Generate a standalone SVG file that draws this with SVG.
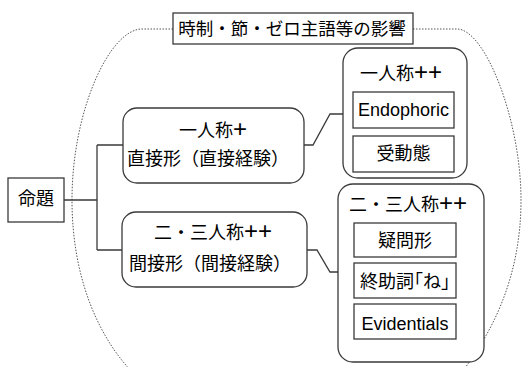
<svg xmlns="http://www.w3.org/2000/svg" width="523" height="367" viewBox="0 0 523 367">
<style>
.box{fill:#fff;stroke:#3a3a3a;stroke-width:1.3}
.ln{fill:none;stroke:#3a3a3a;stroke-width:1.3}
.dot{fill:none;stroke:#555;stroke-width:1;stroke-dasharray:1.5 1.5}
text{font-family:"Noto Sans CJK JP","Liberation Sans",sans-serif;font-size:18px;fill:#000;text-anchor:middle}
text.lat{font-family:"Liberation Sans",sans-serif}
.pl{font-family:"Liberation Sans",sans-serif;font-size:24px}
.h{font-feature-settings:"halt"}
</style>
<rect width="523" height="367" fill="#fff"/>
<g id="scope">
<path class="dot" d="M173,29 H142 C110,29 72,110 72,200 C72,280 100,340 135,375"/>
<path class="dot" d="M413,29 H457 C485,29 521,120 521,200 C521,280 490,335 462,372"/>
</g>
<g id="connectors">
<path class="ln" d="M64,200 H97 M97,145 V250 M97,145 H123 M97,250 H122"/>
<path class="ln" d="M304,145 H313 L330,114 H343"/>
<path class="ln" d="M307,250 H317 L330,272 H338"/>
</g>
<g id="title">
<rect class="box" x="173" y="13" width="240" height="31"/>
<text x="292" y="35" style="font-size:17.5px">時制・節・ゼロ主語等の影響</text>
</g>
<g id="meidai">
<rect class="box" x="8" y="178" width="56" height="44"/>
<text x="36" y="205">命題</text>
</g>
<g id="direct">
<rect class="box" x="123" y="108" width="181" height="75" rx="14"/>
<text x="213" y="137">一人称<tspan class="pl">+</tspan></text>
<text x="208" y="165">直接形（直接経験）</text>
</g>
<g id="indirect">
<rect class="box" x="122" y="212" width="185" height="75" rx="14"/>
<text x="213" y="239">二・三人称<tspan class="pl">++</tspan></text>
<text x="210" y="270">間接形（間接経験）</text>
</g>
<g id="first">
<rect class="box" x="343" y="48" width="124" height="130" rx="15"/>
<text x="401" y="80">一人称<tspan class="pl">++</tspan></text>
<g id="endophoric">
<rect class="box" x="353" y="92" width="101" height="36"/>
<text class="lat" x="403.5" y="116">Endophoric</text>
</g>
<g id="passive">
<rect class="box" x="353" y="136" width="101" height="36"/>
<text x="403.5" y="160">受動態</text>
</g>
</g>
<g id="second">
<rect class="box" x="338" y="184" width="146" height="178" rx="15"/>
<text x="408" y="211">二・三人称<tspan class="pl">++</tspan></text>
<g id="question">
<rect class="box" x="354" y="223" width="102" height="34"/>
<text x="405" y="247">疑問形</text>
</g>
<g id="ne">
<rect class="box" x="354" y="263" width="102" height="35"/>
<text x="405" y="288">終助詞<tspan class="h">「</tspan>ね<tspan class="h">」</tspan></text>
</g>
<g id="evidentials">
<rect class="box" x="354" y="304" width="102" height="35"/>
<text class="lat" x="405" y="330">Evidentials</text>
</g>
</g>
</svg>
